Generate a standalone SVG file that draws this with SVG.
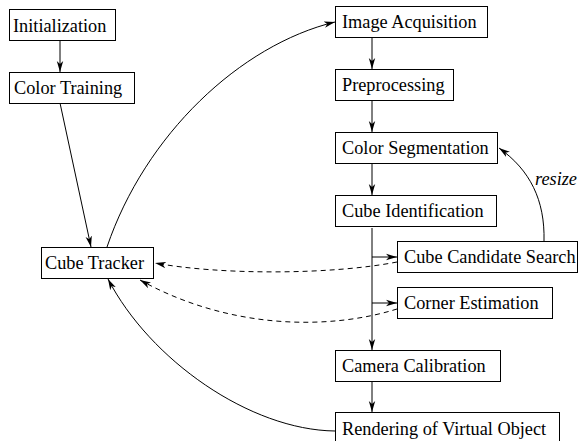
<svg xmlns="http://www.w3.org/2000/svg" width="579" height="441" viewBox="0 0 579 441">
<style>
.box{fill:#fff;stroke:#000;stroke-width:1}
.lbl{font-family:"Liberation Serif","Times New Roman",serif;font-size:18.3px;fill:#000}
.it{font-family:"Liberation Serif","Times New Roman",serif;font-size:18.3px;font-style:italic;fill:#000}
.c{fill:none;stroke:#000;stroke-width:1}
.d{stroke-dasharray:5 4}
</style>
<defs>
<marker id="ah" markerUnits="userSpaceOnUse" markerWidth="12" markerHeight="8" viewBox="0 0 12 8" refX="11" refY="4" orient="auto">
<path d="M0,0.8 L11,4 L0,7.2 L3,4 z" fill="#000"/>
</marker>
</defs>
<g id="connectors">
<line class="c" x1="60" y1="40" x2="60" y2="72" marker-end="url(#ah)"/>
<line class="c" x1="60" y1="103" x2="91" y2="247" marker-end="url(#ah)"/>
<path class="c" d="M107,247 C145,135 240,45 335,22" marker-end="url(#ah)"/>
<line class="c" x1="372" y1="37" x2="372" y2="69" marker-end="url(#ah)"/>
<line class="c" x1="372" y1="100" x2="372" y2="132" marker-end="url(#ah)"/>
<line class="c" x1="372" y1="163" x2="372" y2="195" marker-end="url(#ah)"/>
<line class="c" x1="372" y1="228" x2="372" y2="350" marker-end="url(#ah)"/>
<line class="c" x1="372" y1="257" x2="397" y2="257" marker-end="url(#ah)"/>
<line class="c" x1="372" y1="303" x2="397" y2="303" marker-end="url(#ah)"/>
<line class="c" x1="372" y1="381" x2="372" y2="412" marker-end="url(#ah)"/>
<path class="c" d="M544,241 C545,200 530,170 499,148" marker-end="url(#ah)"/>
<path class="c d" d="M397,262 C330,275 220,275 155,263" marker-end="url(#ah)"/>
<path class="c d" d="M397,309 C330,330 230,330 140,280" marker-end="url(#ah)"/>
<path class="c" d="M335,431 C250,430 150,360 108,279" marker-end="url(#ah)"/>
<text class="it" x="535" y="185">resize</text>
</g>
<g id="initialization"><rect class="box" x="9.5" y="9.5" width="106" height="31"/><text class="lbl" x="13" y="32">Initialization</text></g>
<g id="color-training"><rect class="box" x="9.5" y="72.5" width="125" height="31"/><text class="lbl" x="14" y="94">Color Training</text></g>
<g id="cube-tracker"><rect class="box" x="41.5" y="247.5" width="112" height="31"/><text class="lbl" x="45" y="269">Cube Tracker</text></g>
<g id="image-acquisition"><rect class="box" x="335.5" y="6.5" width="152" height="31"/><text class="lbl" x="342" y="28">Image Acquisition</text></g>
<g id="preprocessing"><rect class="box" x="335.5" y="69.5" width="118" height="31"/><text class="lbl" x="342" y="91">Preprocessing</text></g>
<g id="color-segmentation"><rect class="box" x="335.5" y="132.5" width="162" height="31"/><text class="lbl" x="342" y="154">Color Segmentation</text></g>
<g id="cube-identification"><rect class="box" x="335.5" y="195.5" width="161" height="31"/><text class="lbl" x="342" y="217">Cube Identification</text></g>
<g id="cube-candidate-search"><rect class="box" x="397.5" y="241.5" width="180" height="31"/><text class="lbl" x="404" y="263">Cube Candidate Search</text></g>
<g id="corner-estimation"><rect class="box" x="397.5" y="287.5" width="155" height="31"/><text class="lbl" x="404" y="309">Corner Estimation</text></g>
<g id="camera-calibration"><rect class="box" x="335.5" y="350.5" width="165" height="31"/><text class="lbl" x="342" y="372">Camera Calibration</text></g>
<g id="rendering"><rect class="box" x="335.5" y="412.5" width="224" height="31"/><text class="lbl" x="342" y="435">Rendering of Virtual Object</text></g>
</svg>
